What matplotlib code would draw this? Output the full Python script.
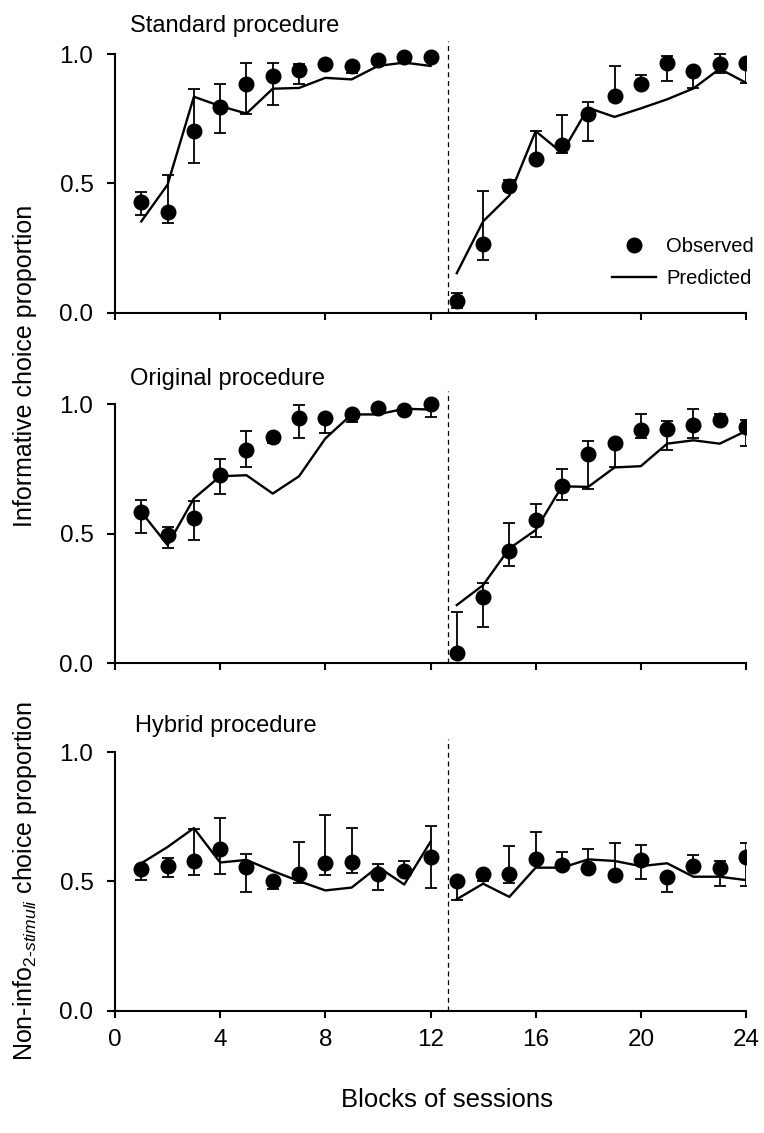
import numpy as np
import matplotlib
matplotlib.use("Agg")
import matplotlib.pyplot as plt
from matplotlib.lines import Line2D

plt.rcParams['font.family'] = ['Liberation Sans', 'DejaVu Sans']
plt.rcParams['mathtext.fontset'] = 'custom'
plt.rcParams['mathtext.rm'] = 'Liberation Sans'
plt.rcParams['mathtext.it'] = 'Liberation Sans:italic'

blocks = np.arange(1, 25)

# Standard procedure
std_obs = [0.428, 0.391, 0.702, 0.795, 0.886, 0.915, 0.938, 0.961, 0.954, 0.977, 0.990, 0.990,
           0.047, 0.265, 0.488, 0.594, 0.650, 0.769, 0.837, 0.883, 0.967, 0.934, 0.960, 0.967]
std_hi = [0.467, 0.532, 0.866, 0.883, 0.967, 0.964, 0.960, 0.961, 0.954, 0.977, 0.990, 0.990,
          0.075, 0.469, 0.512, 0.702, 0.766, 0.814, 0.954, 0.919, 0.992, 0.934, 0.999, 0.967]
std_lo = [0.379, 0.346, 0.579, 0.696, 0.770, 0.802, 0.883, 0.961, 0.927, 0.977, 0.990, 0.990,
          0.017, 0.202, 0.470, 0.594, 0.616, 0.665, 0.820, 0.883, 0.895, 0.870, 0.928, 0.889]
std_pred = [0.353, 0.495, 0.835, 0.799, 0.770, 0.866, 0.869, 0.908, 0.902, 0.954, 0.967, 0.954,
            0.153, 0.353, 0.453, 0.702, 0.618, 0.792, 0.757, 0.790, 0.825, 0.867, 0.943, 0.889]

# Original procedure
orig_obs = [0.584, 0.494, 0.559, 0.726, 0.825, 0.874, 0.949, 0.949, 0.964, 0.986, 0.980, 1.000,
            0.040, 0.254, 0.432, 0.552, 0.683, 0.807, 0.851, 0.902, 0.906, 0.919, 0.938, 0.912]
orig_hi = [0.632, 0.526, 0.627, 0.788, 0.896, 0.885, 0.999, 0.949, 0.964, 0.986, 0.980, 1.000,
           0.196, 0.308, 0.543, 0.613, 0.749, 0.857, 0.851, 0.963, 0.937, 0.981, 0.961, 0.938]
orig_lo = [0.501, 0.445, 0.475, 0.652, 0.756, 0.852, 0.870, 0.889, 0.932, 0.986, 0.980, 0.951,
           0.040, 0.140, 0.376, 0.488, 0.632, 0.671, 0.756, 0.868, 0.825, 0.868, 0.938, 0.838]
orig_pred = [0.584, 0.456, 0.636, 0.722, 0.726, 0.655, 0.722, 0.868, 0.961, 0.961, 0.983, 0.980,
             0.224, 0.301, 0.443, 0.514, 0.683, 0.681, 0.756, 0.761, 0.848, 0.861, 0.848, 0.897]

# Hybrid procedure
hyb_obs = [0.547, 0.559, 0.579, 0.624, 0.556, 0.501, 0.530, 0.570, 0.573, 0.530, 0.540, 0.594,
           0.501, 0.530, 0.530, 0.588, 0.564, 0.553, 0.524, 0.583, 0.515, 0.559, 0.553, 0.596]
hyb_hi = [0.560, 0.589, 0.702, 0.744, 0.605, 0.501, 0.654, 0.756, 0.708, 0.566, 0.579, 0.713,
          0.501, 0.530, 0.637, 0.692, 0.615, 0.627, 0.647, 0.641, 0.515, 0.601, 0.580, 0.650]
hyb_lo = [0.504, 0.518, 0.523, 0.530, 0.460, 0.469, 0.492, 0.524, 0.534, 0.466, 0.540, 0.476,
          0.428, 0.500, 0.495, 0.588, 0.564, 0.553, 0.524, 0.511, 0.460, 0.559, 0.481, 0.481]
hyb_pred = [0.570, 0.633, 0.706, 0.573, 0.583, 0.540, 0.501, 0.465, 0.476, 0.556, 0.488, 0.653,
            0.431, 0.491, 0.440, 0.553, 0.553, 0.585, 0.579, 0.559, 0.570, 0.518, 0.518, 0.505]

panels = [
    ("Standard procedure", std_obs, std_lo, std_hi, std_pred),
    ("Original procedure", orig_obs, orig_lo, orig_hi, orig_pred),
    ("Hybrid procedure", hyb_obs, hyb_lo, hyb_hi, hyb_pred),
]
xticks = [0, 4, 8, 12, 16, 20, 24]
yticks = [0.0, 0.5, 1.0]
phase_split = 12.65
n_first = 12  # blocks in the first phase

W, H = 764, 1133
fig = plt.figure(figsize=(W / 100, H / 100), dpi=100)

bottoms_px = [312.7, 663.0, 1010.7]
title_xy = [(130, 32), (130, 385), (135, 732)]
axes = []
for i, (title, obs, lo, hi, pred) in enumerate(panels):
    ax = fig.add_axes([115 / W, 1 - bottoms_px[i] / H, 631 / W, 0.2397])
    obs = np.array(obs); lo = np.array(lo); hi = np.array(hi); pred = np.array(pred)
    ax.errorbar(blocks, obs, yerr=[obs - lo, hi - obs], fmt='none', ecolor='black',
                elinewidth=1.3, capsize=4.2, capthick=1.3, zorder=2)
    # predicted curve is broken between the two phases
    ax.plot(blocks[:n_first], pred[:n_first], color='black', lw=1.7, zorder=3)
    ax.plot(blocks[n_first:], pred[n_first:], color='black', lw=1.7, zorder=3)
    ax.plot(blocks, obs, 'o', color='black', ms=10.5, zorder=4)
    ax.axvline(phase_split, color='black', lw=0.9, ls=(0, (4, 3)), zorder=1)

    ax.set_xlim(0, 24)
    ax.set_ylim(0, 1.05)
    ax.set_xticks(xticks)
    ax.set_yticks(yticks)
    ax.set_yticklabels(['%.1f' % t for t in yticks])
    if i < 2:
        ax.set_xticklabels([])
    for s in ['top', 'right']:
        ax.spines[s].set_visible(False)
    ax.spines['left'].set_bounds(0, 1)
    for s in ['left', 'bottom']:
        ax.spines[s].set_linewidth(1.5)
    ax.tick_params(axis='y', direction='out', length=5.5, width=1.5, pad=10, labelsize=17.5)
    ax.tick_params(axis='x', direction='out', length=5, width=1.5, pad=8, labelsize=17.5)
    fig.text(title_xy[i][0] / W, 1 - title_xy[i][1] / H, title, fontsize=17, va='baseline')
    axes.append(ax)

handles = [Line2D([], [], marker='o', color='black', ls='none', ms=10.5),
           Line2D([], [], color='black', lw=1.7)]
axes[0].legend(handles, ['Observed', 'Predicted'], loc='lower right',
               bbox_to_anchor=(1.025, 0.06), frameon=False, fontsize=14.5,
               handlelength=2.2, handletextpad=0.5, labelspacing=0.65, borderaxespad=0)

fig.text(25 / W, 1 - 366 / H, 'Informative choice proportion', rotation=90,
         fontsize=18, ha='center', va='center')
fig.text(25 / W, 1 - 881 / H,
         'Non-info$_{\\mathit{2\u2010stimuli}}$ choice proportion', rotation=90,
         fontsize=18, ha='center', va='center')
fig.text(447 / W, 1 - 1100 / H, 'Blocks of sessions', fontsize=18.5, ha='center', va='center')

fig.savefig('out.png', dpi=100)
